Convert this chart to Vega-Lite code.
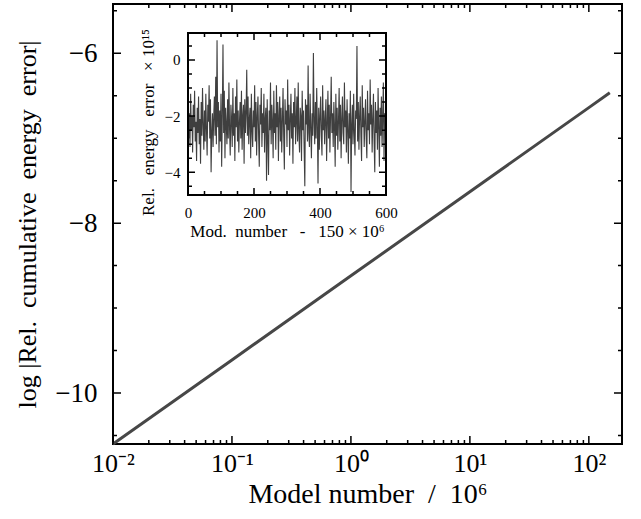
{
  "$schema": "https://vega.github.io/schema/vega-lite/v6.json",
  "width": 509,
  "height": 440,
  "autosize": {"type": "none"},
  "padding": {"left": 113, "top": 4, "right": 19, "bottom": 75},
  "background": "white",
  "config": {
    "view": {"stroke": "black", "strokeWidth": 2},
    "axis": {
      "grid": false,
      "domain": false,
      "tickSize": 0,
      "labelColor": "black",
      "titleColor": "black",
      "labelFont": "Liberation Serif",
      "titleFont": "Liberation Serif",
      "titleFontWeight": "normal",
      "labelOverlap": false,
      "labelFlush": false
    },
    "rect": {"fillOpacity": 0, "stroke": "black", "strokeWidth": 1.5}
  },
  "datasets": {
    "main": [
      {"n": 0.01, "e": -10.6},
      {"n": 0.1, "e": -9.61},
      {"n": 1, "e": -8.62},
      {"n": 10, "e": -7.63},
      {"n": 100, "e": -6.64},
      {"n": 150, "e": -6.465}
    ],
    "mxMaj": [{"v": 0.01}, {"v": 0.1}, {"v": 1}, {"v": 10}, {"v": 100}],
    "mxMin": [{"v":0.02},{"v":0.03},{"v":0.04},{"v":0.05},{"v":0.06},{"v":0.07},{"v":0.08},{"v":0.09},{"v":0.2},{"v":0.3},{"v":0.4},{"v":0.5},{"v":0.6},{"v":0.7},{"v":0.8},{"v":0.9},{"v":2},{"v":3},{"v":4},{"v":5},{"v":6},{"v":7},{"v":8},{"v":9},{"v":20},{"v":30},{"v":40},{"v":50},{"v":60},{"v":70},{"v":80},{"v":90}],
    "myMaj": [{"v": -10}, {"v": -8}, {"v": -6}],
    "myMin": [{"v": -10.5}, {"v": -9.5}, {"v": -9}, {"v": -8.5}, {"v": -7.5}, {"v": -7}, {"v": -6.5}, {"v": -5.5}],
    "ixMaj": [{"v": 0}, {"v": 200}, {"v": 400}, {"v": 600}],
    "ixMin": [{"v": 50}, {"v": 100}, {"v": 150}, {"v": 250}, {"v": 300}, {"v": 350}, {"v": 450}, {"v": 500}, {"v": 550}],
    "iyMaj": [{"v": 0}, {"v": -2}, {"v": -4}],
    "iyMin": [{"v": 0.5}, {"v": -0.5}, {"v": -1}, {"v": -1.5}, {"v": -2.5}, {"v": -3}, {"v": -3.5}, {"v": -4.5}],
    "frame": [{"x0": 0, "x1": 600, "y0": -4.81, "y1": 0.96}],
    "inset": [
      {"m":0,"r":-1.4},{"m":2,"r":-2.8},{"m":4,"r":-1.9},{"m":6,"r":-3.1},{"m":8,"r":-1.2},{"m":10,"r":-2.5},{"m":12,"r":-2.0},{"m":14,"r":-3.3},{"m":16,"r":-1.6},{"m":18,"r":-2.4},
      {"m":20,"r":-1.1},{"m":22,"r":-2.9},{"m":24,"r":-2.2},{"m":26,"r":-3.6},{"m":28,"r":-1.7},{"m":30,"r":-2.6},{"m":32,"r":-1.3},{"m":34,"r":-3.0},{"m":36,"r":-2.1},{"m":38,"r":-3.7},
      {"m":40,"r":-1.5},{"m":42,"r":-2.7},{"m":44,"r":-1.0},{"m":46,"r":-2.3},{"m":48,"r":-3.2},{"m":50,"r":-1.8},{"m":52,"r":-2.9},{"m":54,"r":-1.2},{"m":56,"r":-2.5},{"m":58,"r":-3.4},
      {"m":60,"r":-1.6},{"m":62,"r":-2.2},{"m":64,"r":-0.9},{"m":66,"r":-2.8},{"m":68,"r":-1.4},{"m":70,"r":-4.0},{"m":72,"r":-2.6},{"m":74,"r":-1.9},{"m":76,"r":-3.1},{"m":78,"r":-2.0},
      {"m":80,"r":-1.3},{"m":82,"r":-2.7},{"m":84,"r":-0.6},{"m":86,"r":-3.0},{"m":88,"r":0.7},{"m":90,"r":-2.4},{"m":92,"r":-1.5},{"m":94,"r":-3.3},{"m":96,"r":-1.8},{"m":98,"r":-2.9},
      {"m":100,"r":-1.2},{"m":102,"r":-3.8},{"m":104,"r":-2.0},{"m":106,"r":0.55},{"m":108,"r":-2.6},{"m":110,"r":-1.1},{"m":112,"r":-3.5},{"m":114,"r":-1.7},{"m":116,"r":-2.3},{"m":118,"r":-3.0},
      {"m":120,"r":-1.4},{"m":122,"r":-2.8},{"m":124,"r":-0.8},{"m":126,"r":-2.5},{"m":128,"r":-3.4},{"m":130,"r":-1.6},{"m":132,"r":-2.1},{"m":134,"r":-3.1},{"m":136,"r":-1.0},{"m":138,"r":-2.7},
      {"m":140,"r":-1.9},{"m":142,"r":-3.6},{"m":144,"r":-1.3},{"m":146,"r":-2.4},{"m":148,"r":-0.7},{"m":150,"r":-2.9},{"m":152,"r":-1.8},{"m":154,"r":-3.3},{"m":156,"r":-2.2},{"m":158,"r":-1.5},
      {"m":160,"r":-2.8},{"m":162,"r":-1.1},{"m":164,"r":-3.2},{"m":166,"r":-2.0},{"m":168,"r":-1.6},{"m":170,"r":-3.7},{"m":172,"r":-1.4},{"m":174,"r":-2.6},{"m":176,"r":-1.9},{"m":178,"r":-0.35},
      {"m":180,"r":-2.7},{"m":182,"r":-1.3},{"m":184,"r":-3.0},{"m":186,"r":-2.1},{"m":188,"r":-1.7},{"m":190,"r":-3.5},{"m":192,"r":-1.2},{"m":194,"r":-2.5},{"m":196,"r":-3.1},{"m":198,"r":-1.8},
      {"m":200,"r":-2.4},{"m":202,"r":-0.9},{"m":204,"r":-2.9},{"m":206,"r":-1.5},{"m":208,"r":-3.4},{"m":210,"r":-2.0},{"m":212,"r":-1.3},{"m":214,"r":-2.7},{"m":216,"r":-3.8},{"m":218,"r":-1.6},
      {"m":220,"r":-2.3},{"m":222,"r":-1.0},{"m":224,"r":-3.1},{"m":226,"r":-1.9},{"m":228,"r":-2.6},{"m":230,"r":-1.2},{"m":232,"r":-3.3},{"m":234,"r":-2.1},{"m":236,"r":-1.7},{"m":238,"r":-4.3},
      {"m":240,"r":-1.4},{"m":242,"r":-2.8},{"m":244,"r":-4.1},{"m":246,"r":-1.8},{"m":248,"r":-2.5},{"m":250,"r":-0.8},{"m":252,"r":-3.0},{"m":254,"r":-1.6},{"m":256,"r":-2.2},{"m":258,"r":-3.5},
      {"m":260,"r":-1.1},{"m":262,"r":-2.6},{"m":264,"r":-1.9},{"m":266,"r":-3.2},{"m":268,"r":-0.9},{"m":270,"r":-2.4},{"m":272,"r":-1.5},{"m":274,"r":-3.6},{"m":276,"r":-2.0},{"m":278,"r":-1.3},
      {"m":280,"r":-2.9},{"m":282,"r":-1.7},{"m":284,"r":-3.3},{"m":286,"r":-2.2},{"m":288,"r":-1.0},{"m":290,"r":-2.7},{"m":292,"r":-3.9},{"m":294,"r":-1.4},{"m":296,"r":-2.3},{"m":298,"r":-1.8},
      {"m":300,"r":-3.1},{"m":302,"r":-0.7},{"m":304,"r":-2.5},{"m":306,"r":-1.6},{"m":308,"r":-3.4},{"m":310,"r":-2.1},{"m":312,"r":-1.2},{"m":314,"r":-2.8},{"m":316,"r":-1.9},{"m":318,"r":-3.7},
      {"m":320,"r":-1.5},{"m":322,"r":-2.4},{"m":324,"r":-1.0},{"m":326,"r":-3.0},{"m":328,"r":-2.2},{"m":330,"r":-1.3},{"m":332,"r":-2.9},{"m":334,"r":-0.8},{"m":336,"r":-2.6},{"m":338,"r":-3.3},
      {"m":340,"r":-1.7},{"m":342,"r":-2.0},{"m":344,"r":-3.6},{"m":346,"r":-1.1},{"m":348,"r":-2.5},{"m":350,"r":-1.8},{"m":352,"r":-3.2},{"m":354,"r":-4.5},{"m":356,"r":-1.4},{"m":358,"r":-2.3},
      {"m":360,"r":-1.6},{"m":362,"r":-2.9},{"m":364,"r":-0.2},{"m":366,"r":-2.6},{"m":368,"r":-3.1},{"m":370,"r":-1.2},{"m":372,"r":-2.4},{"m":374,"r":-3.5},{"m":376,"r":-1.9},{"m":378,"r":-2.7},
      {"m":380,"r":0.25},{"m":382,"r":-2.2},{"m":384,"r":-3.0},{"m":386,"r":-1.5},{"m":388,"r":-2.8},{"m":390,"r":-1.0},{"m":392,"r":-2.3},{"m":394,"r":-4.4},{"m":396,"r":-1.7},{"m":398,"r":-3.2},
      {"m":400,"r":-2.0},{"m":402,"r":-1.3},{"m":404,"r":-2.7},{"m":406,"r":-3.4},{"m":408,"r":-0.9},{"m":410,"r":-2.5},{"m":412,"r":-1.8},{"m":414,"r":-3.0},{"m":416,"r":-2.1},{"m":418,"r":-1.4},
      {"m":420,"r":-3.6},{"m":422,"r":-2.3},{"m":424,"r":-1.1},{"m":426,"r":-2.8},{"m":428,"r":-1.6},{"m":430,"r":-3.3},{"m":432,"r":-2.0},{"m":434,"r":-0.6},{"m":436,"r":-2.6},{"m":438,"r":-1.9},
      {"m":440,"r":-3.1},{"m":442,"r":-1.5},{"m":444,"r":-2.4},{"m":446,"r":-3.8},{"m":448,"r":-1.2},{"m":450,"r":-2.7},{"m":452,"r":-1.7},{"m":454,"r":-3.2},{"m":456,"r":-2.2},{"m":458,"r":-1.0},
      {"m":460,"r":-2.9},{"m":462,"r":-1.6},{"m":464,"r":-3.5},{"m":466,"r":-2.1},{"m":468,"r":-1.3},{"m":470,"r":-2.6},{"m":472,"r":-3.0},{"m":474,"r":-0.8},{"m":476,"r":-2.4},{"m":478,"r":-1.8},
      {"m":480,"r":-3.3},{"m":482,"r":-1.4},{"m":484,"r":-2.5},{"m":486,"r":-3.7},{"m":488,"r":-1.9},{"m":490,"r":-2.8},{"m":492,"r":-1.1},{"m":494,"r":-4.7},{"m":496,"r":-2.3},{"m":498,"r":-1.6},
      {"m":500,"r":-3.0},{"m":502,"r":-1.2},{"m":504,"r":-2.6},{"m":506,"r":-3.4},{"m":508,"r":-1.8},{"m":510,"r":-2.1},{"m":512,"r":0.5},{"m":514,"r":-2.9},{"m":516,"r":-1.5},{"m":518,"r":-3.2},
      {"m":520,"r":-2.0},{"m":522,"r":-1.3},{"m":524,"r":-2.7},{"m":526,"r":-3.6},{"m":528,"r":-0.9},{"m":530,"r":-2.4},{"m":532,"r":-1.7},{"m":534,"r":-3.1},{"m":536,"r":-2.2},{"m":538,"r":-1.4},
      {"m":540,"r":-2.8},{"m":542,"r":-3.5},{"m":544,"r":-1.1},{"m":546,"r":-2.5},{"m":548,"r":-1.9},{"m":550,"r":-3.0},{"m":552,"r":-0.7},{"m":554,"r":-2.3},{"m":556,"r":-1.6},{"m":558,"r":-3.3},
      {"m":560,"r":-2.1},{"m":562,"r":-1.2},{"m":564,"r":-2.9},{"m":566,"r":-4.0},{"m":568,"r":-1.5},{"m":570,"r":-2.6},{"m":572,"r":-1.8},{"m":574,"r":-3.2},{"m":576,"r":-1.0},{"m":578,"r":-2.4},
      {"m":580,"r":-3.8},{"m":582,"r":-1.7},{"m":584,"r":-2.7},{"m":586,"r":-1.3},{"m":588,"r":-3.1},{"m":590,"r":-2.0},{"m":592,"r":-0.8},{"m":594,"r":-3.6},{"m":596,"r":-1.9},{"m":598,"r":-2.2},{"m":600,"r":-2.5}
    ]
  },
  "resolve": {
    "scale": {"x": "independent", "y": "independent"},
    "axis": {"x": "independent", "y": "independent"}
  },
  "layer": [
    {
      "data": {"name": "main"},
      "mark": {"type": "line", "color": "#474747", "strokeWidth": 3},
      "encoding": {
        "x": {"field": "n", "type": "quantitative",
          "scale": {"type": "log", "domain": [0.01, 190], "nice": false},
          "axis": {"orient": "bottom", "values": [0.01, 0.1, 1, 10, 100],
            "labelExpr": "datum.value < 0.05 ? '10⁻²' : datum.value < 0.5 ? '10⁻¹' : datum.value < 5 ? '10⁰' : datum.value < 50 ? '10¹' : '10²'",
            "labelPadding": 6, "labelFontSize": 26,
            "title": "Model number\u00a0\u00a0/\u00a0\u00a010⁶", "titleFontSize": 28, "titlePadding": 4}},
        "y": {"field": "e", "type": "quantitative",
          "scale": {"domain": [-10.6, -5.42], "nice": false, "zero": false},
          "axis": {"orient": "left", "values": [-10, -8, -6],
            "labelExpr": "'−' + abs(datum.value)",
            "labelPadding": 16, "labelFontSize": 27,
            "title": "log\u00a0|Rel.\u00a0\u00a0cumulative\u00a0\u00a0energy\u00a0\u00a0error|", "titleFontSize": 26, "titlePadding": 14}}
      }
    },
    {
      "data": {"name": "mxMaj"},
      "mark": {"type": "rect"},
      "encoding": {
        "x": {"field": "v", "type": "quantitative", "scale": {"type": "log", "domain": [0.01, 190], "nice": false}, "axis": null},
        "x2": {"field": "v"},
        "y": {"datum": -10.6, "type": "quantitative", "scale": {"domain": [-10.6, -5.42], "nice": false, "zero": false}, "axis": null},
        "y2": {"datum": -10.5058}
      }
    },
    {
      "data": {"name": "mxMaj"},
      "mark": {"type": "rect"},
      "encoding": {
        "x": {"field": "v", "type": "quantitative", "scale": {"type": "log", "domain": [0.01, 190], "nice": false}, "axis": null},
        "x2": {"field": "v"},
        "y": {"datum": -5.5142, "type": "quantitative", "scale": {"domain": [-10.6, -5.42], "nice": false, "zero": false}, "axis": null},
        "y2": {"datum": -5.42}
      }
    },
    {
      "data": {"name": "mxMin"},
      "mark": {"type": "rect"},
      "encoding": {
        "x": {"field": "v", "type": "quantitative", "scale": {"type": "log", "domain": [0.01, 190], "nice": false}, "axis": null},
        "x2": {"field": "v"},
        "y": {"datum": -10.6, "type": "quantitative", "scale": {"domain": [-10.6, -5.42], "nice": false, "zero": false}, "axis": null},
        "y2": {"datum": -10.5529}
      }
    },
    {
      "data": {"name": "mxMin"},
      "mark": {"type": "rect"},
      "encoding": {
        "x": {"field": "v", "type": "quantitative", "scale": {"type": "log", "domain": [0.01, 190], "nice": false}, "axis": null},
        "x2": {"field": "v"},
        "y": {"datum": -5.4671, "type": "quantitative", "scale": {"domain": [-10.6, -5.42], "nice": false, "zero": false}, "axis": null},
        "y2": {"datum": -5.42}
      }
    },
    {
      "data": {"name": "myMaj"},
      "mark": {"type": "rect"},
      "encoding": {
        "x": {"datum": 0.01, "type": "quantitative", "scale": {"type": "log", "domain": [0.01, 190], "nice": false}, "axis": null},
        "x2": {"datum": 0.011676},
        "y": {"field": "v", "type": "quantitative", "scale": {"domain": [-10.6, -5.42], "nice": false, "zero": false}, "axis": null},
        "y2": {"field": "v"}
      }
    },
    {
      "data": {"name": "myMaj"},
      "mark": {"type": "rect"},
      "encoding": {
        "x": {"datum": 162.73, "type": "quantitative", "scale": {"type": "log", "domain": [0.01, 190], "nice": false}, "axis": null},
        "x2": {"datum": 190},
        "y": {"field": "v", "type": "quantitative", "scale": {"domain": [-10.6, -5.42], "nice": false, "zero": false}, "axis": null},
        "y2": {"field": "v"}
      }
    },
    {
      "data": {"name": "myMin"},
      "mark": {"type": "rect"},
      "encoding": {
        "x": {"datum": 0.01, "type": "quantitative", "scale": {"type": "log", "domain": [0.01, 190], "nice": false}, "axis": null},
        "x2": {"datum": 0.010805},
        "y": {"field": "v", "type": "quantitative", "scale": {"domain": [-10.6, -5.42], "nice": false, "zero": false}, "axis": null},
        "y2": {"field": "v"}
      }
    },
    {
      "data": {"name": "myMin"},
      "mark": {"type": "rect"},
      "encoding": {
        "x": {"datum": 175.84, "type": "quantitative", "scale": {"type": "log", "domain": [0.01, 190], "nice": false}, "axis": null},
        "x2": {"datum": 190},
        "y": {"field": "v", "type": "quantitative", "scale": {"domain": [-10.6, -5.42], "nice": false, "zero": false}, "axis": null},
        "y2": {"field": "v"}
      }
    },
    {
      "data": {"name": "inset"},
      "mark": {"type": "line", "color": "#3f3f3f", "strokeWidth": 1.1},
      "encoding": {
        "x": {"field": "m", "type": "quantitative",
          "scale": {"domain": [0, 600], "nice": false, "range": [75, 273]},
          "axis": {"orient": "bottom", "offset": -249, "values": [0, 200, 400, 600],
            "labelPadding": 10, "labelFontSize": 15,
            "title": "Mod.\u00a0\u00a0number\u00a0\u00a0\u00a0-\u00a0\u00a0\u00a0150\u00a0×\u00a010⁶", "titleFontSize": 17, "titlePadding": 3}},
        "y": {"field": "r", "type": "quantitative",
          "scale": {"domain": [-4.81, 0.96], "nice": false, "zero": false, "range": [191, 29]},
          "axis": {"orient": "left", "offset": -75, "values": [0, -2, -4],
            "labelExpr": "datum.value == 0 ? '0' : '−' + abs(datum.value)",
            "labelPadding": 8, "labelFontSize": 15,
            "title": "Rel.\u00a0\u00a0\u00a0energy\u00a0\u00a0\u00a0error\u00a0\u00a0\u00a0×\u00a010¹⁵", "titleFontSize": 17, "titlePadding": 7, "titleY": 118}}
      }
    },
    {
      "data": {"name": "frame"},
      "mark": {"type": "rect", "strokeWidth": 2},
      "encoding": {
        "x": {"field": "x0", "type": "quantitative", "scale": {"domain": [0, 600], "nice": false, "range": [75, 273]}, "axis": null},
        "x2": {"field": "x1"},
        "y": {"field": "y0", "type": "quantitative", "scale": {"domain": [-4.81, 0.96], "nice": false, "zero": false, "range": [191, 29]}, "axis": null},
        "y2": {"field": "y1"}
      }
    },
    {
      "data": {"name": "ixMaj"},
      "mark": {"type": "rect"},
      "encoding": {
        "x": {"field": "v", "type": "quantitative", "scale": {"domain": [0, 600], "nice": false, "range": [75, 273]}, "axis": null},
        "x2": {"field": "v"},
        "y": {"datum": -4.81, "type": "quantitative", "scale": {"domain": [-4.81, 0.96], "nice": false, "zero": false, "range": [191, 29]}, "axis": null},
        "y2": {"datum": -4.5607}
      }
    },
    {
      "data": {"name": "ixMaj"},
      "mark": {"type": "rect"},
      "encoding": {
        "x": {"field": "v", "type": "quantitative", "scale": {"domain": [0, 600], "nice": false, "range": [75, 273]}, "axis": null},
        "x2": {"field": "v"},
        "y": {"datum": 0.7107, "type": "quantitative", "scale": {"domain": [-4.81, 0.96], "nice": false, "zero": false, "range": [191, 29]}, "axis": null},
        "y2": {"datum": 0.96}
      }
    },
    {
      "data": {"name": "ixMin"},
      "mark": {"type": "rect"},
      "encoding": {
        "x": {"field": "v", "type": "quantitative", "scale": {"domain": [0, 600], "nice": false, "range": [75, 273]}, "axis": null},
        "x2": {"field": "v"},
        "y": {"datum": -4.81, "type": "quantitative", "scale": {"domain": [-4.81, 0.96], "nice": false, "zero": false, "range": [191, 29]}, "axis": null},
        "y2": {"datum": -4.6675}
      }
    },
    {
      "data": {"name": "ixMin"},
      "mark": {"type": "rect"},
      "encoding": {
        "x": {"field": "v", "type": "quantitative", "scale": {"domain": [0, 600], "nice": false, "range": [75, 273]}, "axis": null},
        "x2": {"field": "v"},
        "y": {"datum": 0.8175, "type": "quantitative", "scale": {"domain": [-4.81, 0.96], "nice": false, "zero": false, "range": [191, 29]}, "axis": null},
        "y2": {"datum": 0.96}
      }
    },
    {
      "data": {"name": "iyMaj"},
      "mark": {"type": "rect"},
      "encoding": {
        "x": {"datum": 0, "type": "quantitative", "scale": {"domain": [0, 600], "nice": false, "range": [75, 273]}, "axis": null},
        "x2": {"datum": 21.21},
        "y": {"field": "v", "type": "quantitative", "scale": {"domain": [-4.81, 0.96], "nice": false, "zero": false, "range": [191, 29]}, "axis": null},
        "y2": {"field": "v"}
      }
    },
    {
      "data": {"name": "iyMaj"},
      "mark": {"type": "rect"},
      "encoding": {
        "x": {"datum": 578.79, "type": "quantitative", "scale": {"domain": [0, 600], "nice": false, "range": [75, 273]}, "axis": null},
        "x2": {"datum": 600},
        "y": {"field": "v", "type": "quantitative", "scale": {"domain": [-4.81, 0.96], "nice": false, "zero": false, "range": [191, 29]}, "axis": null},
        "y2": {"field": "v"}
      }
    },
    {
      "data": {"name": "iyMin"},
      "mark": {"type": "rect"},
      "encoding": {
        "x": {"datum": 0, "type": "quantitative", "scale": {"domain": [0, 600], "nice": false, "range": [75, 273]}, "axis": null},
        "x2": {"datum": 12.12},
        "y": {"field": "v", "type": "quantitative", "scale": {"domain": [-4.81, 0.96], "nice": false, "zero": false, "range": [191, 29]}, "axis": null},
        "y2": {"field": "v"}
      }
    },
    {
      "data": {"name": "iyMin"},
      "mark": {"type": "rect"},
      "encoding": {
        "x": {"datum": 587.88, "type": "quantitative", "scale": {"domain": [0, 600], "nice": false, "range": [75, 273]}, "axis": null},
        "x2": {"datum": 600},
        "y": {"field": "v", "type": "quantitative", "scale": {"domain": [-4.81, 0.96], "nice": false, "zero": false, "range": [191, 29]}, "axis": null},
        "y2": {"field": "v"}
      }
    }
  ]
}
